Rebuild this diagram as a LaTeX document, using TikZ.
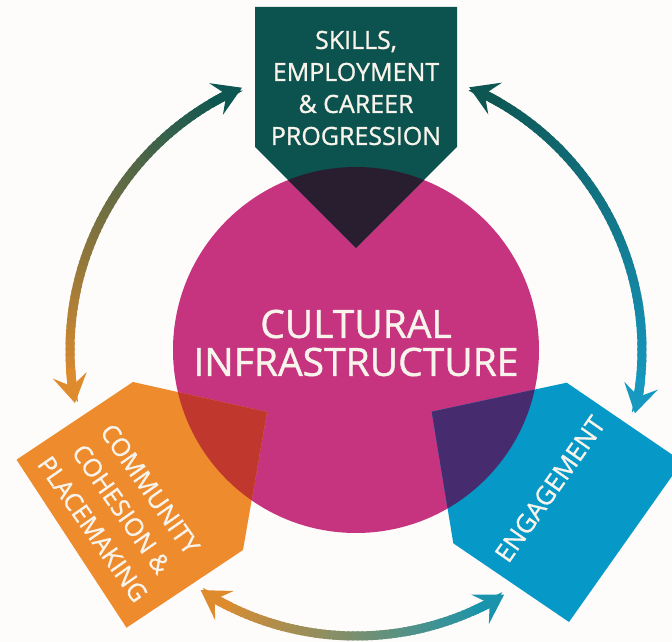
\documentclass[tikz,border=0pt]{standalone}
\usepackage{fontspec}
\setmainfont{Open Sans}
\newfontfamily\lblfont{Open Sans}[FakeBold=1]
\usetikzlibrary{arrows.meta,calc}
\definecolor{bg}{RGB}{253,252,250}
\definecolor{topbox}{RGB}{12,82,79}
\definecolor{topov}{RGB}{40,30,48}
\definecolor{mag}{RGB}{198,52,128}
\definecolor{orng}{RGB}{238,139,44}
\definecolor{orov}{RGB}{192,55,45}
\definecolor{blu}{RGB}{6,153,199}
\definecolor{bluov}{RGB}{70,43,110}
\definecolor{txt}{RGB}{248,244,236}
\definecolor{aOr}{RGB}{222,139,46}
\definecolor{aTeal}{RGB}{14,86,82}
\definecolor{aBlue}{RGB}{22,152,192}
\definecolor{aTealB}{RGB}{26,148,172}
\tikzset{
  shaft/.style={line width=9pt},
  headtip/.style={-{Stealth[length=28pt,width=34pt,inset=11pt]}},
  label/.style={text=txt, align=center, inner sep=0pt},
}
\newcommand{\gradarc}[4]{%
  \foreach \i in {0,...,59}{%
    \pgfmathsetmacro{\aa}{#1+(#2-#1)*\i/60}%
    \pgfmathsetmacro{\ab}{#1+(#2-#1)*min(\i+1.5,60)/60}%
    \pgfmathtruncatemacro{\pc}{100-100*\i/59}%
    \draw[shaft, color=#3!\pc!#4] ([shift={(\aa:286)}]c) arc[start angle=\aa, end angle=\ab, radius=286];
  }%
}
\newcommand{\ahead}[3]{%
  \draw[shaft, color=#3, headtip] ([shift={(#2:286)}]c) arc[start angle=#2, end angle=#1, radius=286];
}
\newcommand{\toppath}{(255,635) -- (457,635) -- (457,495) -- (356,394) -- (255,495) -- cycle}
\newcommand{\orpath}{(133,260) -- (267,230) -- (243,92) -- (126.5,14.3) -- (16.5,182.3) -- cycle}
\newcommand{\blpath}{(431.7,230.3) -- (566.7,259.3) -- (682.3,180.4) -- (569,20) -- (453.3,98.7) -- cycle}
\begin{document}
\begin{tikzpicture}[x=1pt,y=1pt]
\useasboundingbox (0,0) rectangle (672,642);
\clip (0,0) rectangle (672,642);
\fill[bg] (0,0) rectangle (672,642);
\coordinate (c) at (356,292);
% arrows
\gradarc{187.1}{117.1}{aOr}{aTeal}
\ahead{113.5}{120.5}{aTeal}
\ahead{190.7}{183.7}{aOr}
\gradarc{63.1}{-9.2}{aTeal}{aBlue}
\ahead{66.7}{59.7}{aTeal}
\ahead{-12.8}{-5.8}{aBlue}
\gradarc{240.7}{297.6}{aOr}{aTealB}
\ahead{237.1}{244.1}{aOr}
\ahead{301.2}{294.2}{aTealB}
% circle and boxes
\fill[mag] (c) circle[radius=183];
\fill[topbox] \toppath;
\fill[orng] \orpath;
\fill[blu] \blpath;
\begin{scope}
  \clip (c) circle[radius=183];
  \fill[topov] \toppath;
  \fill[orov] \orpath;
  \fill[bluov] \blpath;
\end{scope}
% texts
\node[label, font=\lblfont\fontsize{39}{38}\selectfont] (core) at (356,299) {CULTURAL\\INFRASTRUCTURE};
\node[label, font=\lblfont\fontsize{25}{32}\selectfont] (skills) at (356,554) {SKILLS,\\EMPLOYMENT\\\&~CAREER\\PROGRESSION};
\node[label, font=\lblfont\fontsize{25}{35}\selectfont, rotate=-55] (comm) at (121.5,133) {COMMUNITY\\COHESION \&\\PLACEMAKING};
\node[label, font=\lblfont\fontsize{25.5}{32}\selectfont, rotate=55] (eng) at (550,153) {ENGAGEMENT};
\end{tikzpicture}
\end{document}
